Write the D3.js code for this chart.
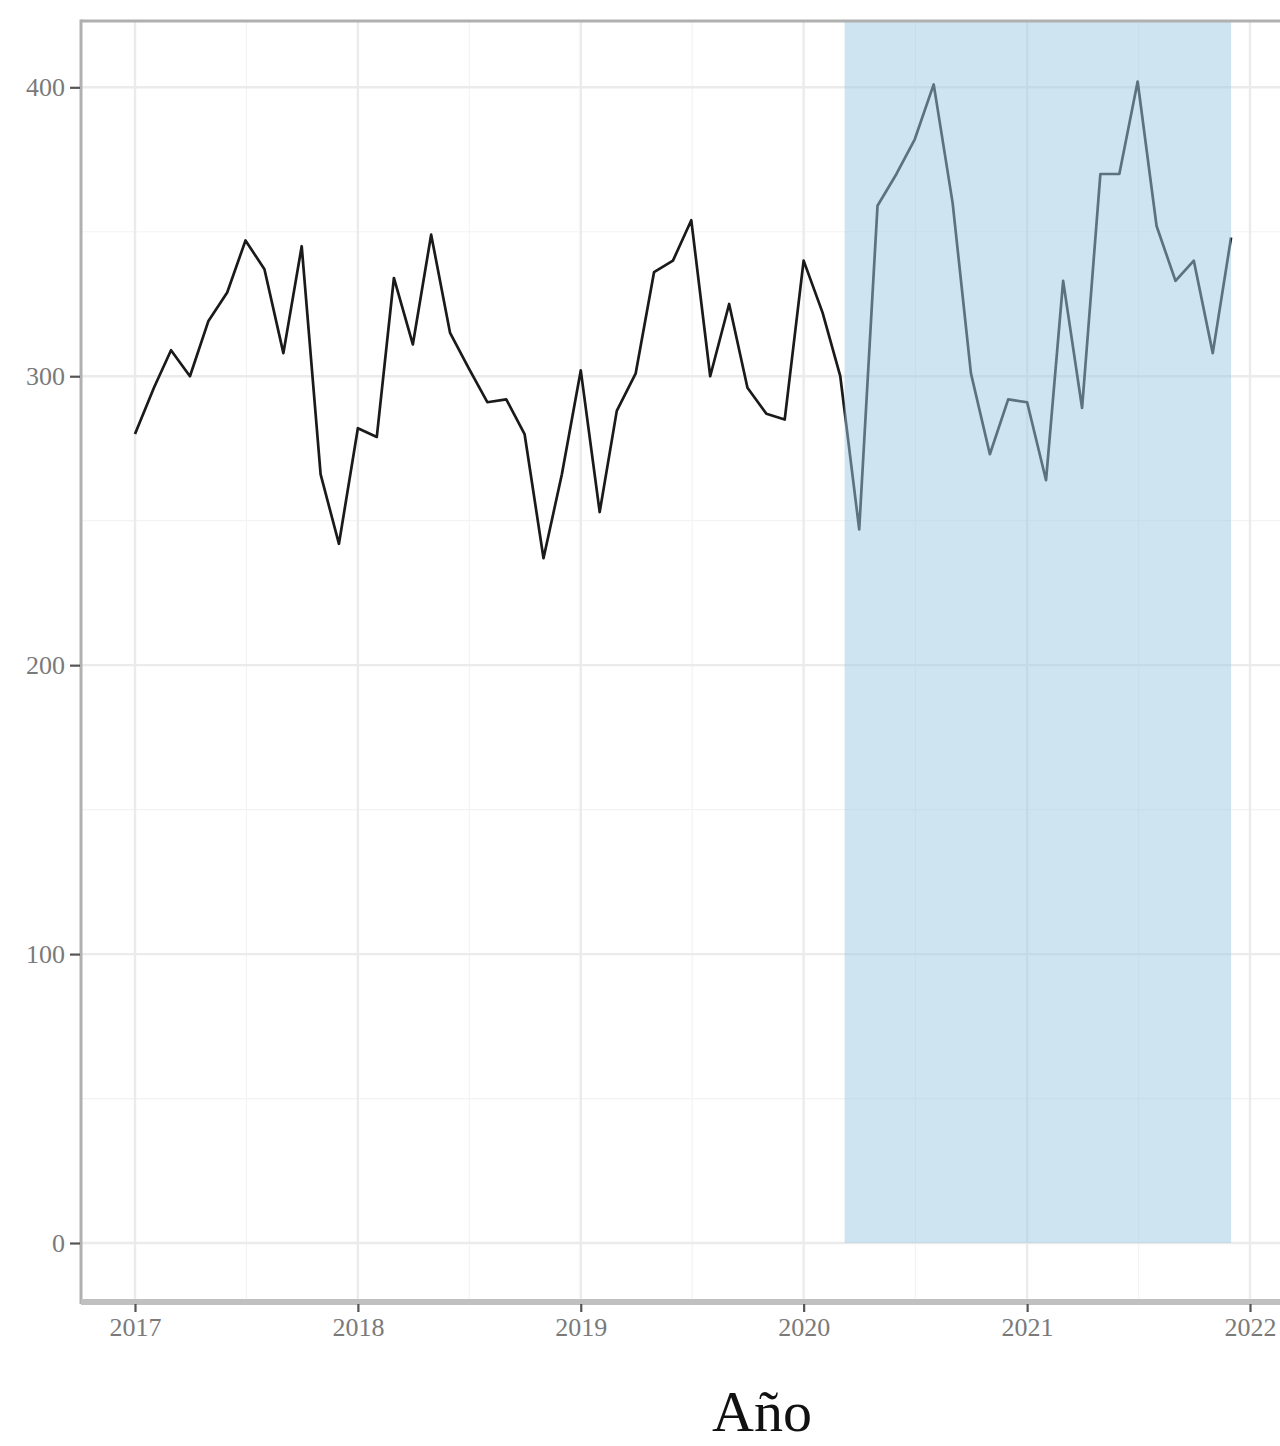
<!DOCTYPE html>
<html>
<head>
<meta charset="utf-8">
<script src="https://cdn.jsdelivr.net/npm/d3@7"></script>
<style>
  html, body { margin: 0; padding: 0; background: #ffffff; }
  svg { display: block; }
</style>
</head>
<body>
<svg id="chart" width="1280" height="1446"></svg>
<script>
// ---- data ----
const months = [
  "2017-01","2017-02","2017-03","2017-04","2017-05","2017-06","2017-07","2017-08","2017-09","2017-10","2017-11","2017-12",
  "2018-01","2018-02","2018-03","2018-04","2018-05","2018-06","2018-07","2018-08","2018-09","2018-10","2018-11","2018-12",
  "2019-01","2019-02","2019-03","2019-04","2019-05","2019-06","2019-07","2019-08","2019-09","2019-10","2019-11","2019-12",
  "2020-01","2020-02","2020-03","2020-04","2020-05","2020-06","2020-07","2020-08","2020-09","2020-10","2020-11","2020-12",
  "2021-01","2021-02","2021-03","2021-04","2021-05","2021-06","2021-07","2021-08","2021-09","2021-10","2021-11","2021-12"
];
const values = [
  280, 296, 309, 300, 319, 329, 347, 337, 308, 345, 266, 242,
  282, 279, 334, 311, 349, 315, 303, 291, 292, 280, 237, 266,
  302, 253, 288, 301, 336, 340, 354, 300, 325, 296, 287, 285,
  340, 322, 300, 247, 359, 370, 382, 401, 360, 301, 273, 292,
  291, 264, 333, 289, 370, 370, 402, 352, 333, 340, 308, 348
];
const xTickYears = [2017, 2018, 2019, 2020, 2021, 2022];
const xMinorYears = [2017.5, 2018.5, 2019.5, 2020.5, 2021.5];
const yTicks = [0, 100, 200, 300, 400];
const yMinor = [50, 150, 250, 350];
const shadeStart = "2020-03-08";
const shadeEnd = "2021-12-01";
const xTitle = "Año";

// ---- layout ----
const panel = { left: 81, top: 21, right: 1283, bottom: 1302 };
const parse = d3.timeParse("%Y-%m-%d");
const data = months.map((m, i) => ({ date: parse(m + "-01"), value: values[i] }));

const x = d3.scaleTime()
  .domain([new Date(2017, 0, 1), new Date(2022, 0, 1)])
  .range([135, 1250]);
const y = d3.scaleLinear().domain([0, 400]).range([1243, 87.3]);

const yearDate = yr => {
  const whole = Math.floor(yr);
  const d0 = new Date(whole, 0, 1), d1 = new Date(whole + 1, 0, 1);
  return new Date(d0.getTime() + (yr - whole) * (d1 - d0));
};

const svg = d3.select("#chart");
const font = "'Liberation Serif', 'DejaVu Serif', serif";

svg.append("rect").attr("x", 0).attr("y", 0).attr("width", 1280).attr("height", 1446).attr("fill", "#fff");

const clipId = "panelclip";
svg.append("clipPath").attr("id", clipId).append("rect")
  .attr("x", panel.left).attr("y", panel.top)
  .attr("width", panel.right - panel.left).attr("height", panel.bottom - panel.top);

const g = svg.append("g").attr("clip-path", `url(#${clipId})`);

// minor grid
g.selectAll(".ymin").data(yMinor).enter().append("line")
  .attr("x1", panel.left).attr("x2", panel.right)
  .attr("y1", d => y(d)).attr("y2", d => y(d))
  .attr("stroke", "#f3f3f3").attr("stroke-width", 1.2);
g.selectAll(".xmin").data(xMinorYears).enter().append("line")
  .attr("y1", panel.top).attr("y2", panel.bottom)
  .attr("x1", d => x(yearDate(d))).attr("x2", d => x(yearDate(d)))
  .attr("stroke", "#f3f3f3").attr("stroke-width", 1.2);
// major grid
g.selectAll(".ymaj").data(yTicks).enter().append("line")
  .attr("x1", panel.left).attr("x2", panel.right)
  .attr("y1", d => y(d)).attr("y2", d => y(d))
  .attr("stroke", "#ebebeb").attr("stroke-width", 2.4);
g.selectAll(".xmaj").data(xTickYears).enter().append("line")
  .attr("y1", panel.top).attr("y2", panel.bottom)
  .attr("x1", d => x(new Date(d, 0, 1))).attr("x2", d => x(new Date(d, 0, 1)))
  .attr("stroke", "#ebebeb").attr("stroke-width", 2.4);

// line
const line = d3.line().x(d => x(d.date)).y(d => y(d.value));
g.append("path").datum(data)
  .attr("d", line)
  .attr("fill", "none")
  .attr("stroke", "#1a1a1a")
  .attr("stroke-width", 2.7)
  .attr("stroke-linejoin", "round");

// shaded period (drawn on top, semi-transparent)
g.append("rect")
  .attr("x", x(parse(shadeStart)))
  .attr("width", x(parse(shadeEnd)) - x(parse(shadeStart)))
  .attr("y", panel.top)
  .attr("height", y(0) - panel.top)
  .attr("fill", "#9ecae1")
  .attr("fill-opacity", 0.5);

// panel border
svg.append("line").attr("x1", panel.left).attr("x2", panel.right + 5)
  .attr("y1", panel.top).attr("y2", panel.top)
  .attr("stroke", "#b0b0b0").attr("stroke-width", 3);
svg.append("line").attr("x1", panel.left).attr("x2", panel.left)
  .attr("y1", panel.top - 1.5).attr("y2", panel.bottom + 2)
  .attr("stroke", "#b0b0b0").attr("stroke-width", 3);
svg.append("line").attr("x1", panel.left).attr("x2", panel.right + 5)
  .attr("y1", panel.bottom).attr("y2", panel.bottom)
  .attr("stroke", "#c0c0c0").attr("stroke-width", 6);

// axes
const xAxis = d3.axisBottom(x)
  .tickValues(xTickYears.map(yr => new Date(yr, 0, 1)))
  .tickFormat(d3.timeFormat("%Y"))
  .tickSize(8).tickPadding(6);
const xg = svg.append("g").attr("transform", `translate(0,${panel.bottom + 2})`).call(xAxis);
xg.select(".domain").remove();
xg.selectAll(".tick line").attr("stroke", "#555").attr("stroke-width", 2.2);
xg.selectAll(".tick text").attr("font-family", font).attr("font-size", 26).attr("fill", "#7a7a7a");

const yAxis = d3.axisLeft(y).tickValues(yTicks).tickFormat(d3.format("d")).tickSize(10).tickPadding(5);
const yg = svg.append("g").attr("transform", `translate(${panel.left - 1},0)`).call(yAxis);
yg.select(".domain").remove();
yg.selectAll(".tick line").attr("stroke", "#555").attr("stroke-width", 2.2);
yg.selectAll(".tick text").attr("font-family", font).attr("font-size", 26).attr("fill", "#7a7a7a");

// axis title
svg.append("text")
  .attr("x", 762).attr("y", 1431)
  .attr("text-anchor", "middle")
  .attr("font-family", font)
  .attr("font-size", 58)
  .attr("fill", "#111")
  .text(xTitle);
</script>
</body>
</html>
